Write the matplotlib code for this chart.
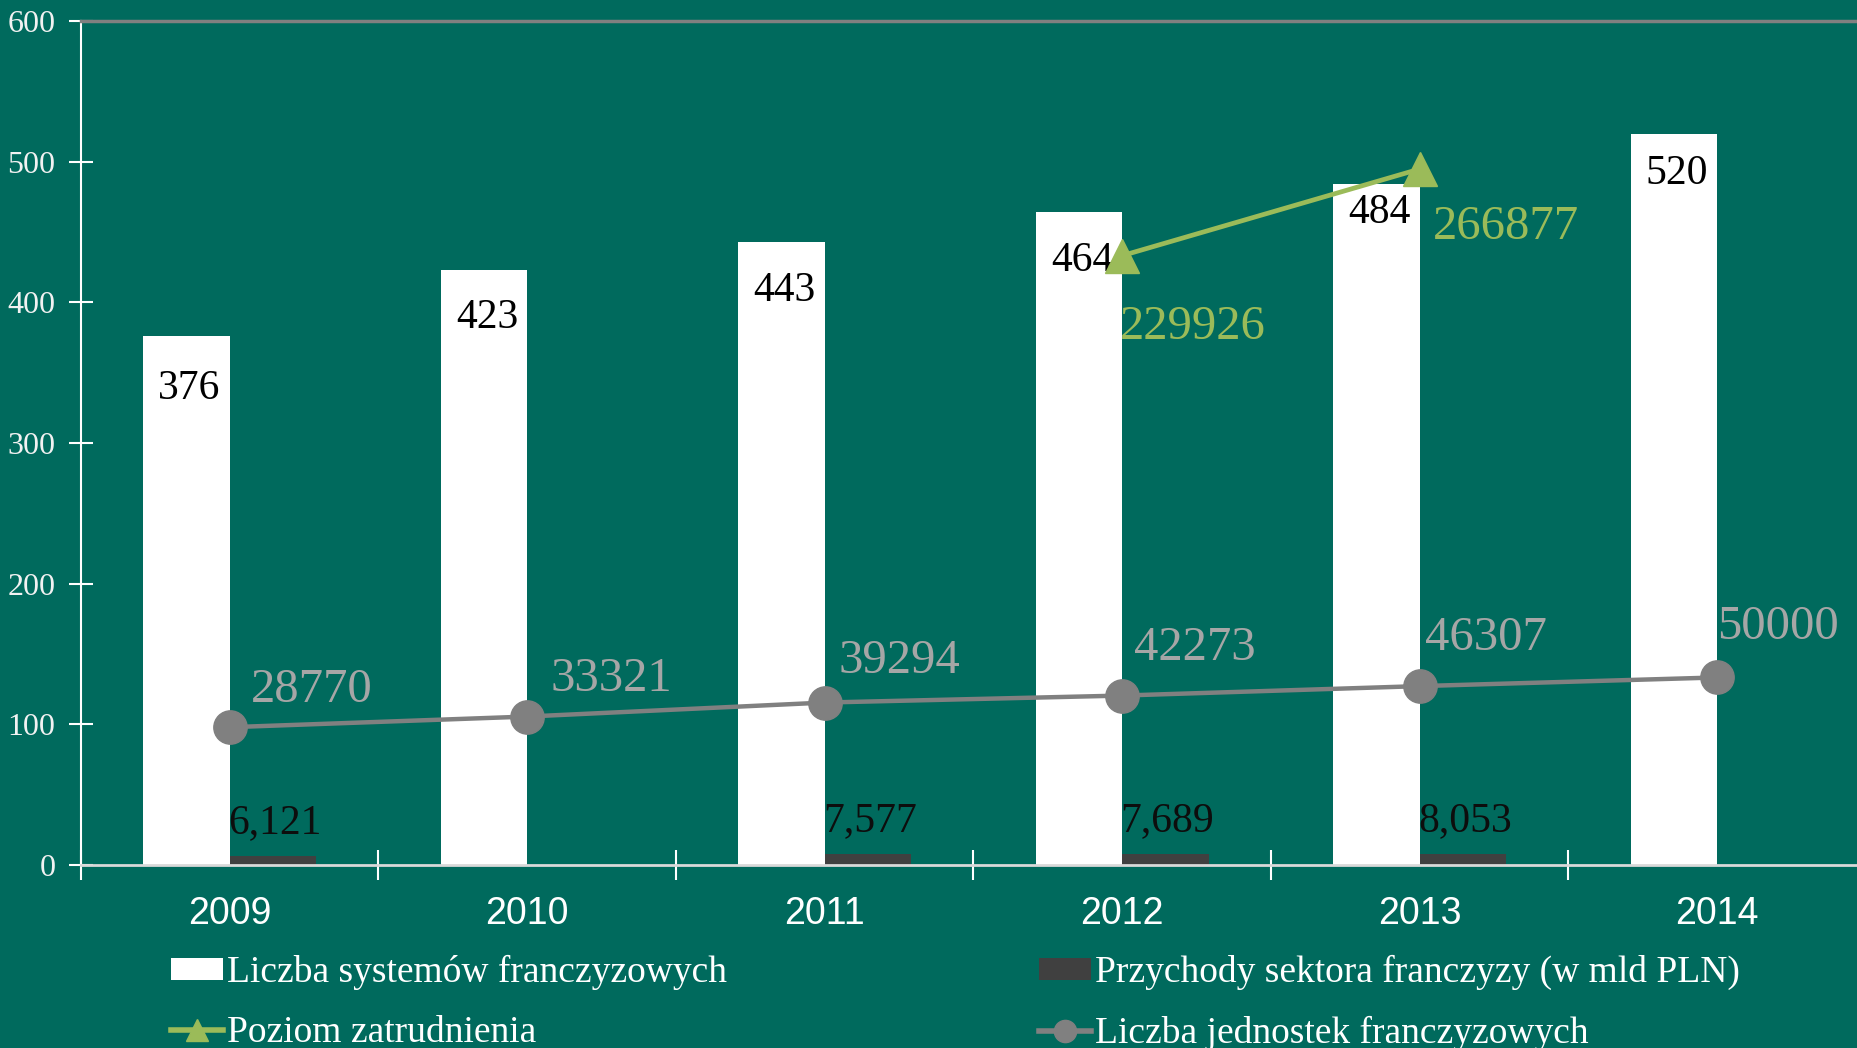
import numpy as np
import matplotlib.pyplot as plt
from matplotlib.lines import Line2D
from matplotlib.patches import Patch

lata = ["2009", "2010", "2011", "2012", "2013", "2014"]
liczba_systemow = [376, 423, 443, 464, 484, 520]
przychody = [6.121, np.nan, 7.577, 7.689, 8.053, np.nan]
zatrudnienie = [np.nan, np.nan, np.nan, 229926, 266877, np.nan]
liczba_jednostek = [28770, 33321, 39294, 42273, 46307, 50000]

# label nudges in pixels (picked by eye from the original)
off_systemy = [63, 58, 59, 59, 39, 50]
off_jednostki = [(21, 25), (23, 26), (14, 30), (12, 36), (5, 36), (0, 38)]
off_zatrudnienie = {3: (-2, -83), 4: (13, -70)}

tlo = "#006A5D"
zielony = "#9BBB59"
szary = "#808080"
ciemny = "#404040"
serif = "Liberation Serif"
sans = "Liberation Sans"

fig = plt.figure(figsize=(18.58, 10.48), dpi=100, facecolor=tlo)
ax = fig.add_axes([81 / 1858, 1 - 865 / 1048, 1785 / 1858, 844 / 1048])
ax.set_facecolor(tlo)

x = np.arange(len(lata))
w = 0.29
ax.bar(x - w / 2, liczba_systemow, w, color="white", zorder=2)
ax.bar(x + w / 2, przychody, w, color=ciemny, zorder=2)
ax.set_xlim(-0.5, len(lata) - 0.5)
ax.set_ylim(0, 600)

for i, v in enumerate(liczba_systemow):
    ax.annotate(str(v), (x[i] - w / 2, v), xytext=(3, -off_systemy[i]),
                textcoords="offset pixels", ha="center", va="baseline",
                fontsize=30, family=serif, color="black", zorder=3)
for i, v in enumerate(przychody):
    if np.isnan(v):
        continue
    ax.annotate(f"{v:.3f}".replace(".", ","), (x[i] + w / 2, v), xytext=(2, 23),
                textcoords="offset pixels", ha="center", va="baseline",
                fontsize=30, family=serif, color="#0D0D0D", zorder=3)

# second, hidden scale for the two lines
ax2 = ax.twinx()
ax2.set_ylim(-30000, 330000)
ax2.set_axis_off()
ax2.plot(x, liczba_jednostek, color=szary, lw=3.2, marker="o", ms=24, zorder=4)
ax2.plot(x, zatrudnienie, color=zielony, lw=3.4, marker="^", ms=24, zorder=4)

for i, v in enumerate(liczba_jednostek):
    ax2.annotate(str(v), (x[i], v), xytext=off_jednostki[i], textcoords="offset pixels",
                 ha="left", va="baseline", fontsize=35, family=serif, color="#A6A6A6")
for i, v in enumerate(zatrudnienie):
    if np.isnan(v):
        continue
    ax2.annotate(str(v), (x[i], v), xytext=off_zatrudnienie[i], textcoords="offset pixels",
                 ha="left", va="baseline", fontsize=35, family=serif, color=zielony)

# axes look
ax.spines["right"].set_visible(False)
ax.spines["top"].set_color(szary)
ax.spines["top"].set_linewidth(2.5)
ax.spines["left"].set_color("white")
ax.spines["left"].set_linewidth(1.5)
ax.spines["bottom"].set_color("#D9D9D9")
ax.spines["bottom"].set_linewidth(2)

ax.set_yticks(range(0, 601, 100))
ax.tick_params(axis="y", direction="inout", length=17, width=1.5, color="white",
               labelcolor="#F2F2F2", labelsize=23, pad=10)
for t in ax.get_yticklabels():
    t.set_family(serif)

ax.set_xticks(x)
ax.set_xticklabels(lata)
ax.set_xticks(np.arange(-0.5, len(lata)), minor=True)
ax.tick_params(axis="x", which="major", length=0, labelsize=27, labelcolor="white", pad=22)
ax.tick_params(axis="x", which="minor", direction="inout", length=22, width=1.5, color="white")
for t in ax.get_xticklabels():
    t.set_family(sans)

# legend in two columns, built as two separate legends
h1 = [Patch(facecolor="white"),
      Line2D([], [], color=zielony, lw=4, marker="^", ms=16)]
h2 = [Patch(facecolor=ciemny),
      Line2D([], [], color=szary, lw=4, marker="o", ms=16)]
opts = dict(loc="upper left", frameon=False, borderpad=0, borderaxespad=0,
            handlelength=1.4, handleheight=0.54, handletextpad=0.1,
            labelspacing=0.68, labelcolor="white",
            prop={"family": serif, "size": 27})
fig.legend(h1, ["Liczba systemów franczyzowych", "Poziom zatrudnienia"],
           bbox_to_anchor=(171 / 1858, 1 - 955 / 1048), **opts)
fig.legend(h2, ["Przychody sektora franczyzy (w mld PLN)", "Liczba jednostek franczyzowych"],
           bbox_to_anchor=(1039 / 1858, 1 - 955 / 1048), **opts)

plt.savefig("out.png", dpi=100, facecolor=tlo)
